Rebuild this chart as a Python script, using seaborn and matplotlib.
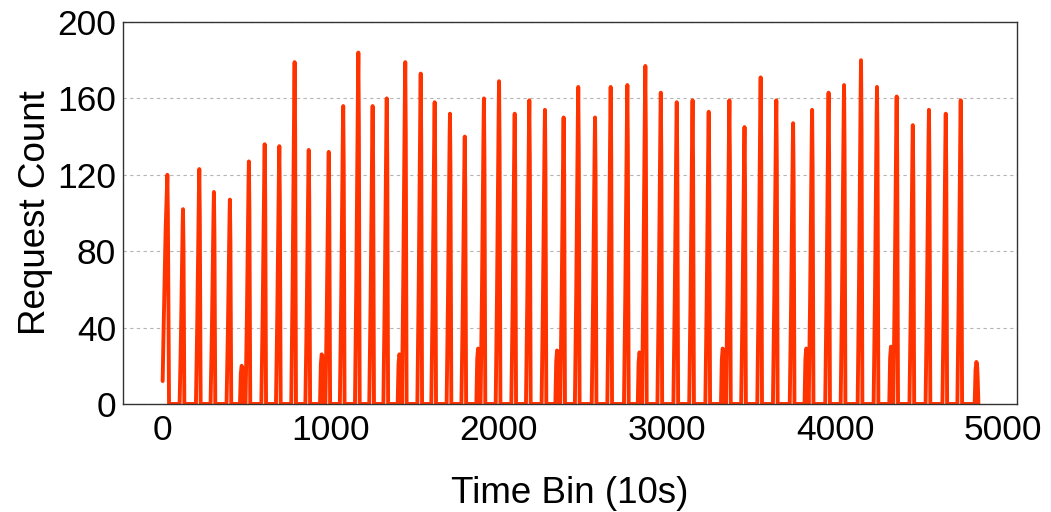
import numpy as np
import pandas as pd
import matplotlib
matplotlib.use("Agg")
import matplotlib.pyplot as plt
import seaborn as sns

# Opening burst (starts mid-ramp at bin 0)
opening_bins = [0, 6, 18, 28, 31, 38]
opening_counts = [12, 40, 92, 120, 100, 0]

# Weekday request bursts: bin of the peak and peak request count
spike_bins = [121, 218, 305, 400,
              513, 607, 694, 785, 869,
              988, 1074, 1164, 1249, 1333,
              1443, 1535, 1618, 1709, 1797,
              1911, 2001, 2094, 2181, 2274,
              2385, 2472, 2572, 2665, 2764,
              2871, 2963, 3058, 3152, 3248,
              3371, 3461, 3557, 3650, 3750,
              3863, 3961, 4053, 4154, 4249,
              4366, 4462, 4558, 4658, 4747]
spike_counts = [102, 123, 111, 107,
                127, 136, 135, 179, 133,
                132, 156, 184, 156, 160,
                179, 173, 158, 152, 140,
                160, 169, 152, 159, 154,
                150, 166, 150, 166, 167,
                177, 163, 158, 159, 153,
                159, 145, 171, 159, 147,
                154, 163, 167, 180, 166,
                161, 146, 154, 152, 159]

# Low-traffic bumps between groups of bursts
bump_bins = [470, 946, 1408, 1876, 2346, 2836, 3331, 3828, 4332, 4840]
bump_counts = [20, 26, 26, 29, 28, 27, 29, 29, 30, 22]

# Burst profile: offsets (bins) around the peak and fraction of the peak count
spike_offsets = [-20, -12, -6, -2, 0, 3, 8]
spike_fracs = [0.0, 0.35, 0.7, 0.92, 1.0, 0.8, 0.0]
bump_offsets = [-10, -5, 0, 4, 8, 12]
bump_fracs = [0.0, 0.8, 1.0, 0.95, 0.6, 0.0]

xs = list(opening_bins)
ys = list(opening_counts)
for b, c in zip(spike_bins, spike_counts):
    xs += [b + o for o in spike_offsets]
    ys += [c * f for f in spike_fracs]
for b, c in zip(bump_bins, bump_counts):
    xs += [b + o for o in bump_offsets]
    ys += [c * f for f in bump_fracs]

order = np.argsort(np.array(xs), kind="stable")
df = pd.DataFrame({"bin": np.array(xs)[order], "count": np.array(ys)[order]})

sns.set_theme(style="white")
plt.rcParams["font.family"] = ["Liberation Sans", "DejaVu Sans"]

fig = plt.figure(figsize=(10.51, 5.12), dpi=100)
ax = fig.add_axes([0.117, 0.211, 0.8507, 0.746])

sns.lineplot(data=df, x="bin", y="count", ax=ax, color="#ff3300",
             linewidth=2.8, estimator=None, sort=False)

ax.set_xlim(-236, 5082)
ax.set_ylim(0, 200)
ax.set_xticks([0, 1000, 2000, 3000, 4000, 5000])
ax.set_yticks([0, 40, 80, 120, 160, 200])

ax.yaxis.grid(True, linestyle=(0, (3, 3)), color="#b5b5b5", linewidth=0.8)
ax.xaxis.grid(False)
ax.set_axisbelow(True)

for s in ax.spines.values():
    s.set_color("#333333")
    s.set_linewidth(1.0)

ax.tick_params(axis="both", direction="in", length=3, width=0.8,
               color="#333333", labelsize=25.5, labelcolor="black")
ax.tick_params(axis="x", pad=7)
ax.tick_params(axis="y", pad=5)

ax.set_xlabel("Time Bin (10s)", fontsize=26.5, color="black", labelpad=21)
ax.set_ylabel("Request Count", fontsize=26.5, color="black", labelpad=3)

fig.savefig("out.png", dpi=100)
